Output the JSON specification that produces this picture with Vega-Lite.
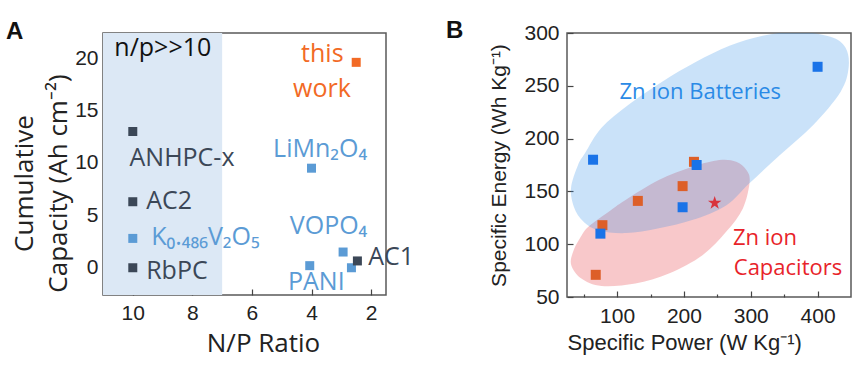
{
  "$schema": "https://vega.github.io/schema/vega-lite/v6.json",
  "background": "white",
  "padding": {"left": 5, "top": 18, "right": 2, "bottom": 2},
  "spacing": 30,
  "config": {
    "view": {"stroke": "#5a5a5a", "strokeWidth": 1.5},
    "axis": {"domain": false, "grid": false, "zindex": 1, "labelOverlap": false, "tickColor": "#444", "tickWidth": 1.2, "labelColor": "#222", "titleColor": "#222", "labelFont": "Liberation Sans", "labelFontSize": 21, "titleFontWeight": "normal"},
    "text": {"font": "Open Sans"}
  },
  "hconcat": [
    {
      "width": 283,
      "height": 262,
      "title": {"text": "A", "anchor": "start", "frame": "group", "dx": -97, "offset": -30, "baseline": "alphabetic", "fontSize": 24, "fontWeight": "bold", "font": "Liberation Sans", "color": "#111"},
      "layer": [
        {
          "data": {"values": [{"x1": 11, "x2": 7}]},
          "mark": {"type": "rect", "color": "#dce8f5"},
          "encoding": {
            "x": {"field": "x1", "type": "quantitative", "scale": {"domain": [1.5, 11], "reverse": true, "zero": false, "nice": false}},
            "x2": {"field": "x2"}
          }
        },
        {
          "data": {"values": [
            {"n": "ANHPC-x", "x": 10, "y": 13, "c": "carbon"},
            {"n": "AC2", "x": 10, "y": 6.3, "c": "carbon"},
            {"n": "K0.486V2O5", "x": 10, "y": 2.8, "c": "cathode"},
            {"n": "RbPC", "x": 10, "y": 0, "c": "carbon"},
            {"n": "this work", "x": 2.5, "y": 19.6, "c": "this"},
            {"n": "LiMn2O4", "x": 4.0, "y": 9.5, "c": "cathode"},
            {"n": "VOPO4", "x": 2.94, "y": 1.5, "c": "cathode"},
            {"n": "PANI", "x": 4.06, "y": 0.2, "c": "cathode"},
            {"n": "other", "x": 2.66, "y": 0.0, "c": "cathode"},
            {"n": "AC1", "x": 2.46, "y": 0.65, "c": "carbon"}
          ]},
          "mark": {"type": "point", "shape": "square", "filled": true, "size": 81, "opacity": 1},
          "encoding": {
            "x": {"field": "x", "type": "quantitative", "scale": {"domain": [1.5, 11], "reverse": true, "zero": false, "nice": false},
              "axis": {"values": [2, 3, 4, 5, 6, 7, 8, 9, 10], "labelExpr": "datum.value % 2 === 0 ? datum.label : ''",
                "tickSize": {"condition": {"test": "datum.value % 2 !== 0", "value": -3}, "value": -6},
                "labelPadding": 13, "title": "N/P Ratio", "titleFont": "Open Sans", "titleFontSize": 26, "titlePadding": 7, "titleX": 160}},
            "y": {"field": "y", "type": "quantitative", "scale": {"domain": [-2.6, 22.4], "zero": false, "nice": false},
              "axis": {"values": [0, 2.5, 5, 7.5, 10, 12.5, 15, 17.5, 20],
                "tickSize": {"condition": {"test": "datum.value % 5 !== 0", "value": -3}, "value": -6},
                "labelOpacity": {"condition": {"test": "datum.value % 5 !== 0", "value": 0}, "value": 1},
                "labelPadding": 11, "title": ["Cumulative", "Capacity (Ah cm⁻²)"], "titleFont": "Open Sans", "titleFontSize": 26, "titleLineHeight": 34, "titlePadding": 3, "titleY": 150}},
            "color": {"field": "c", "type": "nominal", "scale": {"domain": ["carbon", "cathode", "this", "black"], "range": ["#3b4757", "#5b9bd5", "#f26a25", "#111111"]}, "legend": null}
          }
        },
        {
          "data": {"values": [
            {"t": "n/p>>10", "x": 10.62, "y": 20.98, "c": "black"},
            {"t": "this", "x": 4.35, "y": 20.4, "c": "this"},
            {"t": "work", "x": 4.62, "y": 17.05, "c": "this"},
            {"t": "ANHPC-x", "x": 10.11, "y": 10.5, "c": "carbon"},
            {"t": "AC2", "x": 9.55, "y": 6.38, "c": "carbon"},
            {"t": "K₀.₄₈₆V₂O₅", "x": 9.38, "y": 2.9, "c": "cathode"},
            {"t": "RbPC", "x": 9.55, "y": -0.29, "c": "carbon"},
            {"t": "LiMn₂O₄", "x": 5.29, "y": 11.3, "c": "cathode"},
            {"t": "VOPO₄", "x": 4.73, "y": 4.0, "c": "cathode"},
            {"t": "AC1", "x": 2.1, "y": 0.98, "c": "carbon"},
            {"t": "PANI", "x": 4.79, "y": -1.4, "c": "cathode"}
          ]},
          "mark": {"type": "text", "align": "left", "baseline": "middle", "fontSize": 25},
          "encoding": {
            "x": {"field": "x", "type": "quantitative"},
            "y": {"field": "y", "type": "quantitative"},
            "text": {"field": "t"},
            "color": {"field": "c", "type": "nominal", "legend": null}
          }
        }
      ]
    },
    {
      "width": 284,
      "height": 264,
      "title": {"text": "B", "anchor": "start", "frame": "group", "dx": -121, "offset": -40, "baseline": "alphabetic", "fontSize": 24, "fontWeight": "bold", "font": "Liberation Sans", "color": "#111"},
      "layer": [
        {
          "data": {"values": [
            {"i": 0, "x": 56.6, "y": 116.4}, {"i": 1, "x": 86.9, "y": 130.6}, {"i": 2, "x": 112.1, "y": 141.7},
            {"i": 3, "x": 162.4, "y": 160.7}, {"i": 4, "x": 212.7, "y": 173.3}, {"i": 5, "x": 253, "y": 179.7},
            {"i": 6, "x": 278.2, "y": 178.1}, {"i": 7, "x": 293.4, "y": 170.2}, {"i": 8, "x": 298.3, "y": 159.1},
            {"i": 9, "x": 288.2, "y": 133.9}, {"i": 10, "x": 263.1, "y": 111.7}, {"i": 11, "x": 227.8, "y": 89.6},
            {"i": 12, "x": 177.5, "y": 72.2}, {"i": 13, "x": 127.2, "y": 62.7}, {"i": 14, "x": 76.7, "y": 60.4},
            {"i": 15, "x": 46.5, "y": 67.5}, {"i": 16, "x": 31.4, "y": 80.1}, {"i": 17, "x": 34, "y": 92.7},
            {"i": 18, "x": 44.1, "y": 105.4}
          ]},
          "mark": {"type": "line", "interpolate": "cardinal-closed", "fill": "#e6323c", "fillOpacity": 0.27, "strokeWidth": 0, "strokeOpacity": 0, "clip": true},
          "encoding": {
            "x": {"field": "x", "type": "quantitative"},
            "y": {"field": "y", "type": "quantitative"},
            "order": {"field": "i", "type": "quantitative"}
          }
        },
        {
          "data": {"values": [
            {"i": 0, "x": 31, "y": 153.1}, {"i": 1, "x": 41.5, "y": 175}, {"i": 2, "x": 52.1, "y": 186.3},
            {"i": 3, "x": 76.3, "y": 210.1}, {"i": 4, "x": 117.1, "y": 232}, {"i": 5, "x": 166.9, "y": 253.7},
            {"i": 6, "x": 218.3, "y": 272.7}, {"i": 7, "x": 268.1, "y": 287.9}, {"i": 8, "x": 318, "y": 297.4},
            {"i": 9, "x": 369.3, "y": 301.1}, {"i": 10, "x": 419.2, "y": 296.4}, {"i": 11, "x": 441.9, "y": 286},
            {"i": 12, "x": 446.4, "y": 267}, {"i": 13, "x": 434.3, "y": 244.2}, {"i": 14, "x": 393.5, "y": 212.9},
            {"i": 15, "x": 343.7, "y": 184.4}, {"i": 16, "x": 298.3, "y": 157.9}, {"i": 17, "x": 263.6, "y": 137},
            {"i": 18, "x": 212.2, "y": 122.8}, {"i": 19, "x": 162.4, "y": 115.2}, {"i": 20, "x": 112.5, "y": 110.5},
            {"i": 21, "x": 71.8, "y": 113.3}, {"i": 22, "x": 49.1, "y": 121.8}, {"i": 23, "x": 35.5, "y": 135.1}
          ]},
          "mark": {"type": "line", "interpolate": "cardinal-closed", "fill": "#2b8ae8", "fillOpacity": 0.25, "strokeWidth": 0, "strokeOpacity": 0, "clip": true},
          "encoding": {
            "x": {"field": "x", "type": "quantitative"},
            "y": {"field": "y", "type": "quantitative"},
            "order": {"field": "i", "type": "quantitative"}
          }
        },
        {
          "data": {"values": [
            {"x": 215, "y": 178, "c": "cap"},
            {"x": 198, "y": 155, "c": "cap"},
            {"x": 131, "y": 141, "c": "cap"},
            {"x": 78, "y": 118, "c": "cap"},
            {"x": 68, "y": 71, "c": "cap"},
            {"x": 64, "y": 180, "c": "bat"},
            {"x": 400, "y": 268, "c": "bat"},
            {"x": 75, "y": 110, "c": "bat"},
            {"x": 198, "y": 135, "c": "bat"},
            {"x": 219, "y": 175, "c": "bat"}
          ]},
          "mark": {"type": "point", "shape": "square", "filled": true, "opacity": 1, "size": 100},
          "encoding": {
            "x": {"field": "x", "type": "quantitative", "scale": {"domain": [25, 450], "zero": false, "nice": false},
              "axis": {"values": [50, 100, 150, 200, 250, 300, 350, 400], "labelExpr": "datum.value % 100 === 0 ? datum.label : ''",
                "tickSize": {"condition": {"test": "datum.value % 100 !== 0", "value": -3}, "value": -6},
                "labelPadding": 14, "title": "Specific Power (W Kg⁻¹)", "titleFont": "Liberation Sans", "titleFontSize": 22, "titleAnchor": "start", "titlePadding": 3}},
            "y": {"field": "y", "type": "quantitative", "scale": {"domain": [50, 300], "zero": false, "nice": false},
              "axis": {"values": [50, 75, 100, 125, 150, 175, 200, 225, 250, 275, 300], "labelExpr": "datum.value % 50 === 0 ? datum.label : ''",
                "tickSize": {"condition": {"test": "datum.value % 50 !== 0", "value": -3}, "value": -6},
                "labelPadding": 14, "title": "Specific Energy (Wh Kg⁻¹)", "titleFont": "Liberation Sans", "titleFontSize": 21, "titlePadding": 14}},
            "color": {"field": "c", "type": "nominal", "scale": {"domain": ["cap", "bat"], "range": ["#dd5f28", "#1a73e8"]}, "legend": null}
          }
        },
        {
          "data": {"values": [{"x": 246, "y": 139}]},
          "mark": {"type": "point", "filled": true, "opacity": 1, "color": "#d8323c", "size": 200, "shape": "M0,-1L0.2245,-0.309L0.951,-0.309L0.363,0.118L0.588,0.809L0,0.382L-0.588,0.809L-0.363,0.118L-0.951,-0.309L-0.2245,-0.309Z"},
          "encoding": {
            "x": {"field": "x", "type": "quantitative"},
            "y": {"field": "y", "type": "quantitative"}
          }
        },
        {
          "data": {"values": [
            {"t": "Zn ion Batteries", "x": 103.5, "y": 244.5, "c": "b"},
            {"t": "Zn ion", "x": 273.4, "y": 106.3, "c": "r"},
            {"t": "Capacitors", "x": 274.6, "y": 77, "c": "r"}
          ]},
          "mark": {"type": "text", "align": "left", "baseline": "middle", "fontSize": 22},
          "encoding": {
            "x": {"field": "x", "type": "quantitative"},
            "y": {"field": "y", "type": "quantitative"},
            "text": {"field": "t"},
            "color": {"field": "c", "type": "nominal", "scale": {"domain": ["b", "r"], "range": ["#2a8ae6", "#e8232a"]}, "legend": null}
          }
        }
      ],
      "resolve": {"scale": {"color": "independent"}}
    }
  ]
}
